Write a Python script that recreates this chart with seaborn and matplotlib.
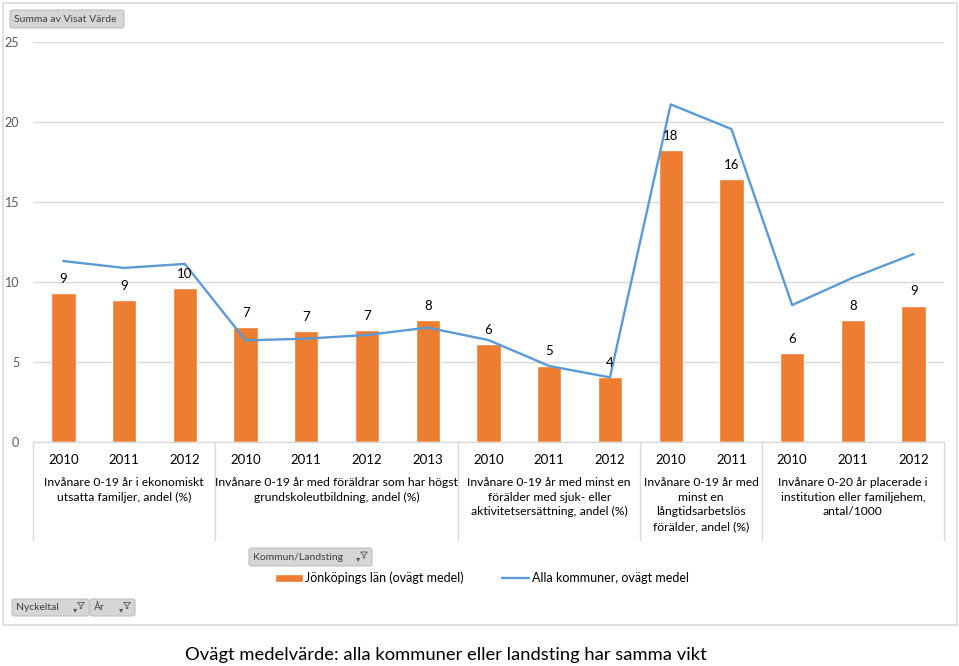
import matplotlib
matplotlib.use("Agg")
import matplotlib.pyplot as plt
import matplotlib.transforms as mtransforms
from matplotlib.patches import FancyBboxPatch, Rectangle, Polygon
import seaborn as sns
import pandas as pd

# ---------------- data ----------------
years = ["2010", "2011", "2012",
         "2010", "2011", "2012", "2013",
         "2010", "2011", "2012",
         "2010", "2011",
         "2010", "2011", "2012"]
group_names = [
    "Invånare 0-19 år i ekonomiskt\nutsatta familjer, andel (%)",
    "Invånare 0-19 år med föräldrar som har högst\ngrundskoleutbildning, andel (%)",
    "Invånare 0-19 år med minst en\nförälder med sjuk- eller\naktivitetsersättning, andel (%)",
    "Invånare 0-19 år med\nminst en\nlångtidsarbetslös\nförälder, andel (%)",
    "Invånare 0-20 år placerade i\ninstitution eller familjehem,\nantal/1000",
]
group_sizes = [3, 4, 3, 2, 3]
jonkoping = [9.31, 8.88, 9.63, 7.19, 6.94, 7.0, 7.63, 6.13, 4.77, 4.07,
             18.25, 16.42, 5.55, 7.62, 8.52]
alla_kommuner = [11.31, 10.88, 11.13, 6.35, 6.46, 6.69, 7.15, 6.37, 4.75, 4.04,
                 21.1, 19.56, 8.56, 10.27, 11.75]
series_bar = "Jönköpings län (ovägt medel)"
series_line = "Alla kommuner, ovägt medel"
yticks = [0, 5, 10, 15, 20, 25]
footer = "Ovägt medelvärde: alla kommuner eller landsting har samma vikt"

df = pd.DataFrame({"idx": list(range(len(years))), "year": years,
                   "bar": jonkoping, "line": alla_kommuner})

# ---------------- style ----------------
sns.set_theme(style="white")
plt.rcParams["font.family"] = ["Lato", "DejaVu Sans"]

W, H = 959, 666
fig = plt.figure(figsize=(W / 100, H / 100), dpi=100)

def fx(px):
    return px / W

def fy(py):
    return 1 - py / H

ORANGE = "#ED7D31"
BLUE = "#5B9BD5"
GRID = "#D9D9D9"
TXT = "#404040"

# outer chart border
fig.add_artist(Rectangle((fx(3), fy(625)), fx(954), (622) / H,
                         transform=fig.transFigure, fill=False,
                         edgecolor=GRID, linewidth=1.2))

ax = fig.add_axes([fx(33), fy(442), fx(944 - 33), 400 / H])

sns.barplot(data=df, x="idx", y="bar", color=ORANGE, width=0.4,
            saturation=1, ax=ax, label=series_bar)
sns.lineplot(x=df["idx"], y=df["line"], color=BLUE, linewidth=1.7,
             ax=ax, label=series_line)

ax.set_xlim(-0.5, len(years) - 0.5)
ax.set_ylim(0, 25)
ax.set_yticks(yticks)
ax.set_yticklabels([str(t) for t in yticks], color="#595959", fontsize=9)
ax.set_xticks(range(len(years)))
ax.set_xticklabels(years, fontsize=9.5, color="black")
ax.tick_params(axis="both", length=0)
ax.tick_params(axis="y", pad=10)
ax.tick_params(axis="x", pad=9)
ax.set_xlabel("")
ax.set_ylabel("")
for s in ["top", "right", "left"]:
    ax.spines[s].set_visible(False)
ax.spines["bottom"].set_color(GRID)
ax.spines["bottom"].set_linewidth(1)
ax.yaxis.grid(True, color=GRID, linewidth=1)
ax.set_axisbelow(True)

ax.bar_label(ax.containers[0], fmt="%.0f", padding=6, fontsize=9.5, color="black")

# group separators and group labels
trans = mtransforms.blended_transform_factory(ax.transData, ax.transAxes)
ybot = -(540 - 442) / 400
edges = [-0.5]
for g in group_sizes:
    edges.append(edges[-1] + g)
for e in edges:
    ax.plot([e, e], [0, ybot], transform=trans, color=GRID, linewidth=1,
            clip_on=False)
for i, name in enumerate(group_names):
    cx = (edges[i] + edges[i + 1]) / 2
    ax.text(cx, -(477 - 442) / 400, name, transform=trans, ha="center",
            va="top", fontsize=8.7, color="black", linespacing=1.4)

# legend (bar first, then line)
handles, labels = ax.get_legend_handles_labels()
order = [labels.index(series_bar), labels.index(series_line)]
leg = ax.legend([handles[i] for i in order], [labels[i] for i in order],
                loc="center", bbox_to_anchor=(fx(482), fy(578)),
                bbox_transform=fig.transFigure, ncol=2, frameon=False,
                fontsize=9, handlelength=2.2, handleheight=0.6,
                columnspacing=3.0, handletextpad=0.2)
for t in leg.get_texts():
    t.set_color("black")

# pivot buttons
def button(x0, y0, x1, y1, text, icon=False):
    fig.add_artist(FancyBboxPatch((fx(x0), fy(y1)), fx(x1 - x0), (y1 - y0) / H,
                                  boxstyle="round,pad=0,rounding_size=0.003",
                                  transform=fig.transFigure, facecolor="#D6D6D6",
                                  edgecolor="#BFBFBF", linewidth=0.8))
    fig.text(fx(x0 + 4), fy((y0 + y1) / 2), text, fontsize=7.5, color=TXT,
             ha="left", va="center")
    if icon:
        fig.text(fx(x1 - 14), fy((y0 + y1) / 2 + 2), "▾", fontsize=6,
                 color="#595959", ha="center", va="center",
                 family="DejaVu Sans")
        cx, cy = x1 - 8, (y0 + y1) / 2 - 2
        fig.add_artist(Polygon([(fx(cx - 3.5), fy(cy - 3)), (fx(cx + 3.5), fy(cy - 3)),
                                (fx(cx + 0.8), fy(cy)), (fx(cx + 0.8), fy(cy + 3)),
                                (fx(cx - 0.8), fy(cy + 3)), (fx(cx - 0.8), fy(cy))],
                               closed=True, transform=fig.transFigure,
                               facecolor="none", edgecolor="#595959", linewidth=0.6))

button(10, 10, 124, 28, "Summa av Visat Värde")
button(249, 548, 372, 566, "Kommun/Landsting", icon=True)
button(12, 599, 89, 616, "Nyckeltal", icon=True)
button(90, 599, 135, 616, "År", icon=True)

fig.text(fx(446), fy(655), footer, fontsize=13.2,
         ha="center", va="center", color="black")

fig.savefig("out.png", dpi=100)
